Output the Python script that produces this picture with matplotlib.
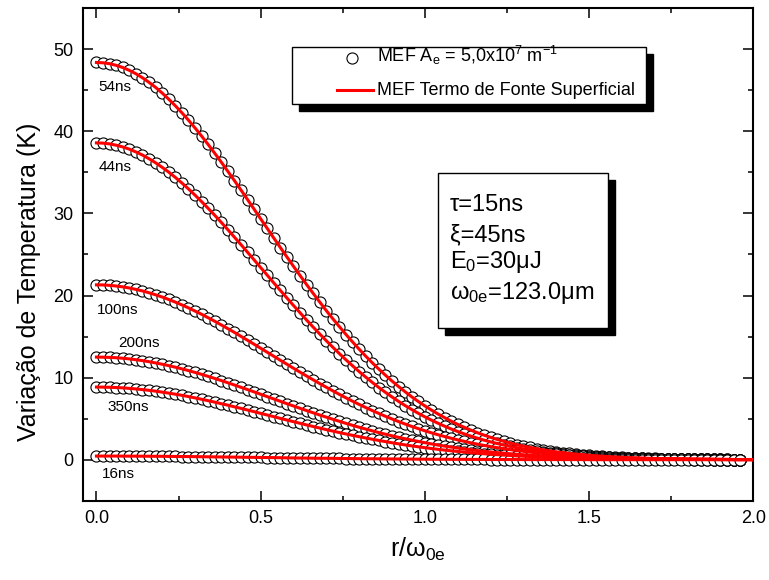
import numpy as np
import matplotlib
matplotlib.use('Agg')
import matplotlib.pyplot as plt
from matplotlib.patches import Rectangle
from matplotlib.lines import Line2D
from matplotlib.ticker import MultipleLocator, FormatStrFormatter

plt.rcParams['font.family'] = ['Liberation Sans', 'DejaVu Sans']
plt.rcParams['mathtext.fontset'] = 'custom'
plt.rcParams['mathtext.rm'] = 'Liberation Sans'
plt.rcParams['mathtext.it'] = 'Liberation Sans:italic'
plt.rcParams['mathtext.default'] = 'regular'

# posicao radial r/w0e (passo 0.02)
r = np.linspace(0.0, 2.0, 101)

# variacao de temperatura (K)
T_54 = [48.40, 48.36, 48.25, 48.05, 47.79, 47.44, 47.03, 46.54, 45.98, 45.37,
        44.68, 43.93, 43.13, 42.28, 41.38, 40.43, 39.44, 38.41, 37.35, 36.26,
        35.14, 34.01, 32.86, 31.70, 30.53, 29.35, 28.18, 27.01, 25.85, 24.70,
        23.56, 22.44, 21.33, 20.26, 19.20, 18.16, 17.16, 16.19, 15.25, 14.34,
        13.46, 12.61, 11.80, 11.03, 10.29, 9.58, 8.91, 8.27, 7.66, 7.09,
        6.55, 6.04, 5.57, 5.12, 4.69, 4.30, 3.94, 3.60, 3.28, 2.99,
        2.72, 2.47, 2.24, 2.02, 1.82, 1.65, 1.49, 1.34, 1.20, 1.07,
        0.96, 0.86, 0.76, 0.68, 0.61, 0.54, 0.47, 0.42, 0.37, 0.33,
        0.29, 0.25, 0.22, 0.19, 0.17, 0.15, 0.13, 0.11, 0.10, 0.09,
        0.07, 0.06, 0.05, 0.05, 0.04, 0.03, 0.03, 0.02, 0.02, 0.02,
        0.02]
T_44 = [38.60, 38.57, 38.48, 38.32, 38.11, 37.84, 37.50, 37.12, 36.67, 36.18,
        35.63, 35.04, 34.40, 33.72, 33.00, 32.24, 31.45, 30.63, 29.79, 28.92,
        28.03, 27.12, 26.21, 25.28, 24.35, 23.41, 22.48, 21.54, 20.62, 19.70,
        18.79, 17.90, 17.01, 16.15, 15.31, 14.49, 13.69, 12.91, 12.16, 11.43,
        10.73, 10.06, 9.41, 8.79, 8.20, 7.64, 7.10, 6.59, 6.11, 5.65,
        5.22, 4.82, 4.44, 4.08, 3.74, 3.43, 3.14, 2.87, 2.62, 2.38,
        2.17, 1.97, 1.78, 1.61, 1.46, 1.31, 1.19, 1.07, 0.95, 0.86,
        0.76, 0.68, 0.61, 0.54, 0.48, 0.43, 0.38, 0.34, 0.30, 0.26,
        0.23, 0.20, 0.18, 0.15, 0.14, 0.12, 0.10, 0.09, 0.08, 0.07,
        0.06, 0.05, 0.04, 0.04, 0.03, 0.03, 0.02, 0.02, 0.01, 0.01,
        0.01]
T_100 = [21.30, 21.29, 21.24, 21.16, 21.06, 20.92, 20.75, 20.56, 20.34, 20.09,
         19.82, 19.52, 19.20, 18.86, 18.50, 18.11, 17.72, 17.30, 16.87, 16.42,
         15.97, 15.51, 15.03, 14.55, 14.07, 13.58, 13.09, 12.60, 12.11, 11.63,
         11.14, 10.66, 10.19, 9.73, 9.27, 8.82, 8.38, 7.95, 7.53, 7.12,
         6.73, 6.35, 5.98, 5.63, 5.28, 4.96, 4.64, 4.34, 4.05, 3.78,
         3.52, 3.27, 3.04, 2.82, 2.61, 2.41, 2.23, 2.05, 1.89, 1.74,
         1.60, 1.46, 1.34, 1.22, 1.12, 1.02, 0.92, 0.84, 0.76, 0.69,
         0.63, 0.56, 0.51, 0.46, 0.41, 0.37, 0.33, 0.30, 0.27, 0.24,
         0.21, 0.19, 0.17, 0.15, 0.13, 0.12, 0.10, 0.09, 0.08, 0.07,
         0.06, 0.06, 0.05, 0.04, 0.04, 0.03, 0.03, 0.02, 0.02, 0.02,
         0.01]
T_200 = [12.50, 12.49, 12.46, 12.42, 12.36, 12.28, 12.18, 12.07, 11.94, 11.79,
         11.63, 11.46, 11.27, 11.07, 10.86, 10.63, 10.40, 10.15, 9.90, 9.64,
         9.37, 9.10, 8.82, 8.54, 8.26, 7.97, 7.68, 7.40, 7.11, 6.82,
         6.54, 6.26, 5.98, 5.71, 5.44, 5.18, 4.92, 4.67, 4.42, 4.18,
         3.95, 3.73, 3.51, 3.30, 3.10, 2.91, 2.72, 2.55, 2.38, 2.22,
         2.07, 1.92, 1.78, 1.65, 1.53, 1.42, 1.31, 1.21, 1.11, 1.02,
         0.94, 0.86, 0.79, 0.72, 0.66, 0.60, 0.54, 0.49, 0.45, 0.41,
         0.37, 0.33, 0.30, 0.27, 0.24, 0.22, 0.20, 0.18, 0.16, 0.14,
         0.13, 0.11, 0.10, 0.09, 0.08, 0.07, 0.06, 0.05, 0.05, 0.04,
         0.04, 0.03, 0.03, 0.03, 0.02, 0.02, 0.02, 0.01, 0.01, 0.01,
         0.01]
T_350 = [8.85, 8.84, 8.82, 8.79, 8.75, 8.69, 8.62, 8.54, 8.45, 8.35,
         8.23, 8.11, 7.98, 7.84, 7.69, 7.53, 7.36, 7.19, 7.01, 6.82,
         6.64, 6.44, 6.25, 6.05, 5.85, 5.64, 5.44, 5.24, 5.03, 4.83,
         4.63, 4.43, 4.23, 4.04, 3.85, 3.66, 3.48, 3.30, 3.13, 2.96,
         2.80, 2.64, 2.49, 2.34, 2.20, 2.06, 1.93, 1.80, 1.68, 1.57,
         1.46, 1.36, 1.26, 1.17, 1.08, 1.00, 0.93, 0.85, 0.79, 0.72,
         0.66, 0.61, 0.56, 0.51, 0.46, 0.42, 0.38, 0.35, 0.32, 0.29,
         0.26, 0.23, 0.21, 0.19, 0.17, 0.15, 0.14, 0.12, 0.11, 0.10,
         0.09, 0.08, 0.07, 0.06, 0.05, 0.05, 0.04, 0.04, 0.03, 0.03,
         0.03, 0.02, 0.02, 0.02, 0.02, 0.01, 0.01, 0.01, 0.01, 0.01,
         0.01]
T_16 = [0.44, 0.44, 0.44, 0.44, 0.43, 0.43, 0.43, 0.42, 0.42, 0.41,
        0.41, 0.40, 0.39, 0.38, 0.38, 0.37, 0.36, 0.35, 0.34, 0.33,
        0.32, 0.31, 0.30, 0.29, 0.28, 0.27, 0.26, 0.25, 0.24, 0.22,
        0.21, 0.20, 0.19, 0.18, 0.17, 0.17, 0.16, 0.15, 0.14, 0.13,
        0.12, 0.11, 0.11, 0.10, 0.09, 0.09, 0.08, 0.08, 0.07, 0.06,
        0.06, 0.05, 0.05, 0.05, 0.04, 0.04, 0.04, 0.03, 0.03, 0.03,
        0.02, 0.02, 0.02, 0.02, 0.02, 0.01, 0.01, 0.01, 0.01, 0.01,
        0.01, 0.01, 0.01, 0.01, 0.01, 0.00, 0.00, 0.00, 0.00, 0.00,
        0.00, 0.00, 0.00, 0.00, 0.00, 0.00, 0.00, 0.00, 0.00, 0.00,
        0.00, 0.00, 0.00, 0.00, 0.00, 0.00, 0.00, 0.00, 0.00, 0.00,
        0.00]

curvas = [T_54, T_44, T_100, T_200, T_350, T_16]
rotulos = ['54ns', '44ns', '100ns', '200ns', '350ns', '16ns']
# posicao dos rotulos (dados)
rot_x = [0.007, 0.007, 0.001, 0.065, 0.034, 0.016]
rot_y = [45.4, 35.7, 18.2, 14.2, 6.4, -1.7]

n_circ = 99  # circulos ate r = 1.96

W, H = 769, 580
fig = plt.figure(figsize=(W / 100, H / 100), dpi=100)
ax = fig.add_axes([83.3 / W, 1 - 500.7 / H, 670 / W, 492.4 / H])

for T in curvas:
    ax.plot(r[:n_circ], T[:n_circ], 'o', mfc='white', mec='black', ms=8, mew=0.8, zorder=2)
for T in curvas:
    ax.plot(r, T, color='red', lw=2.2, zorder=3)

for txt, x, y in zip(rotulos, rot_x, rot_y):
    ax.text(x, y, txt, fontsize=11, ha='left', va='center')

ax.set_xlim(-0.04, 2.0)
ax.set_ylim(-5, 55)
ax.xaxis.set_major_locator(MultipleLocator(0.5))
ax.xaxis.set_minor_locator(MultipleLocator(0.25))
ax.xaxis.set_major_formatter(FormatStrFormatter('%.1f'))
ax.yaxis.set_major_locator(MultipleLocator(10))
ax.yaxis.set_minor_locator(MultipleLocator(5))
ax.tick_params(which='both', direction='in', top=True, right=True, width=1.1, labelsize=13, pad=7)
ax.tick_params(which='major', length=7)
ax.tick_params(which='minor', length=3.5)
for s in ax.spines.values():
    s.set_linewidth(1.5)

ax.set_ylabel('Variação de Temperatura (K)', fontsize=18)
ax.yaxis.set_label_coords(-0.063, 0.444)
ax.set_xlabel(r'r/ω$_{0e}$', fontsize=18)
ax.xaxis.set_label_coords(0.5, -0.072)


def px(x, y):
    return x / W, 1 - y / H


def caixa(x0, y0, x1, y1, d):
    # sombra preta + caixa branca
    fx0, fy1 = px(x0, y1)
    fw, fh = (x1 - x0) / W, (y1 - y0) / H
    fig.patches.append(Rectangle((fx0 + d / W, fy1 - d / H), fw, fh, transform=fig.transFigure,
                                 facecolor='black', edgecolor='black', zorder=5))
    fig.patches.append(Rectangle((fx0, fy1), fw, fh, transform=fig.transFigure,
                                 facecolor='white', edgecolor='black', lw=1, zorder=6))


# legenda
caixa(292.3, 47.3, 645.7, 104, 7)
fig.lines.append(Line2D([px(351.7, 0)[0]], [px(0, 58.3)[1]], transform=fig.transFigure, marker='o',
                        mfc='white', mec='black', ms=8, mew=0.8, zorder=7))
fig.lines.append(Line2D([px(336.7, 0)[0], px(373.3, 0)[0]], [px(0, 90)[1]] * 2,
                        transform=fig.transFigure, color='red', lw=2.2, zorder=7))
fig.text(*px(376.7, 62), r'MEF A$_e$ = 5,0x10$^7$ m$^{-1}$', fontsize=13, va='baseline', zorder=8)
fig.text(*px(377, 95), 'MEF Termo de Fonte Superficial', fontsize=13, va='baseline', zorder=8)

# parametros
caixa(438.3, 173.3, 608.3, 328.3, 6.5)
param = ['τ=15ns', 'ξ=45ns', r'E$_0$=30μJ', r'ω$_{0e}$=123.0μm']
base_y = [211, 241, 267.5, 298.5]
for t, yb in zip(param, base_y):
    fig.text(*px(450, yb), t, fontsize=17, va='baseline', zorder=8)

fig.savefig('out.png', dpi=100)
